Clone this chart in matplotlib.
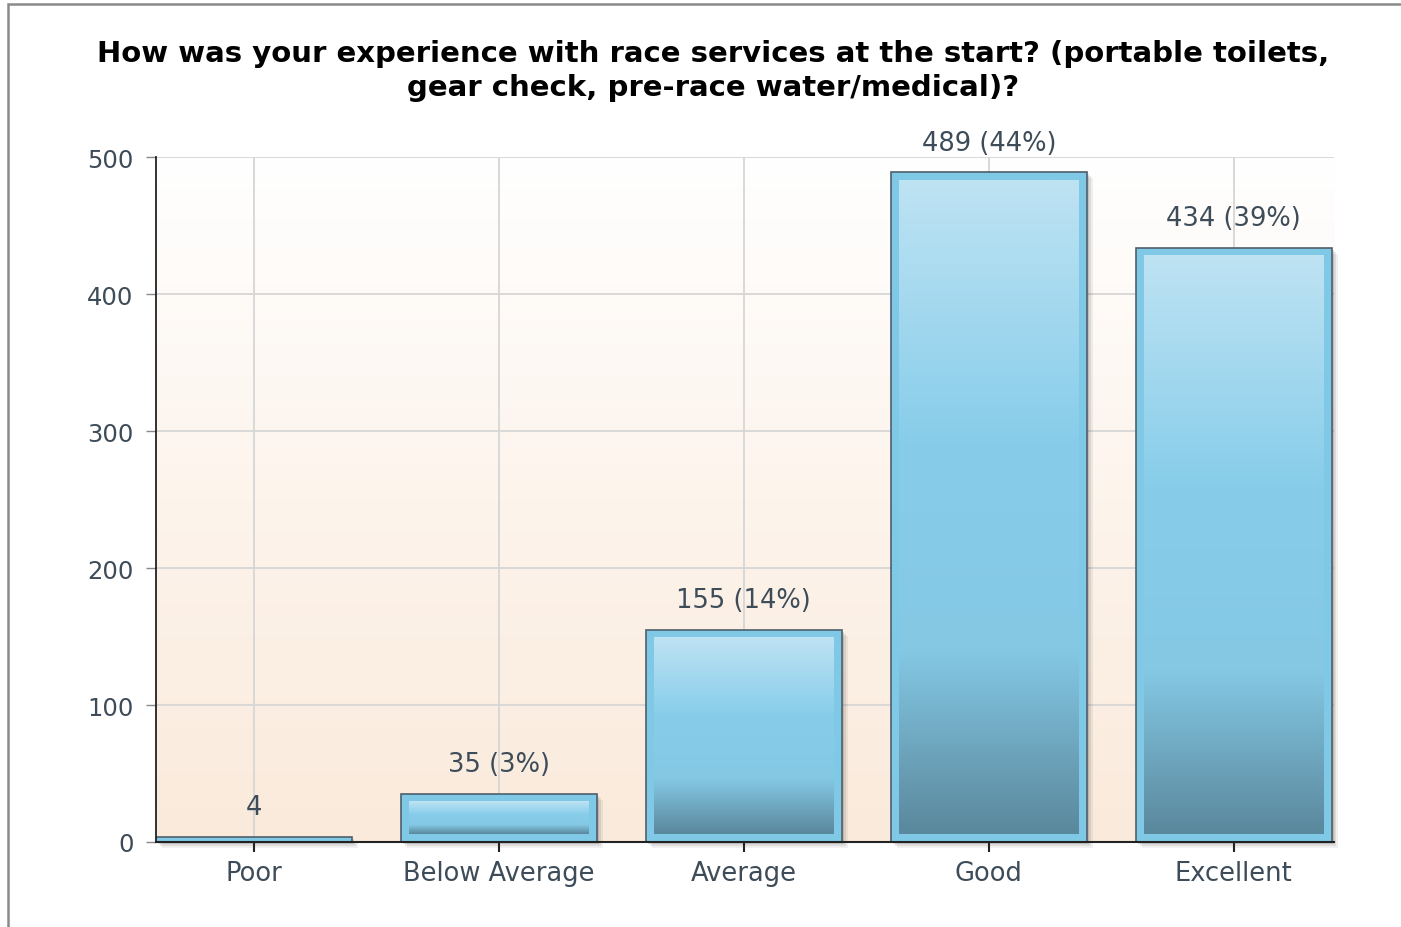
import numpy as np
import matplotlib
matplotlib.use("Agg")
from matplotlib import pyplot as plt
from matplotlib import patches, transforms
from matplotlib.colors import LinearSegmentedColormap

categories = ["Poor", "Below Average", "Average", "Good", "Excellent"]
counts = [4, 35, 155, 489, 434]
labels = ["4", "35 (3%)", "155 (14%)", "489 (44%)", "434 (39%)"]
yticks = [0, 100, 200, 300, 400, 500]
title = ("How was your experience with race services at the start? (portable toilets,\n"
         "gear check, pre-race water/medical)?")

plt.rcParams["font.family"] = ["DejaVu Sans"]
text_col = "#3d4c58"

fig = plt.figure(figsize=(14.01, 9.28), dpi=100)
ax = fig.add_axes([0.1113, 0.0916, 0.841, 0.738])

# background gradient (white at top, light peach at bottom)
bg = LinearSegmentedColormap.from_list("bg", ["#faeadb", "#fdf4ec", "#ffffff"])
ax.imshow(np.linspace(0, 1, 256).reshape(-1, 1)[::-1], cmap=bg, aspect="auto",
          extent=(0, 1, 0, 1), transform=ax.transAxes, zorder=0)

bar_cmap = LinearSegmentedColormap.from_list(
    "bar", [(0.0, "#5a889d"), (0.28, "#84c8e4"), (0.6, "#87cdea"), (1.0, "#bee3f3")])

x = np.arange(len(categories))
width = 0.8
dx = 0.034
dy = 5.8
for xi, v in zip(x, counts):
    # soft shadow
    for k, a in [(6, 0.07), (4, 0.1), (2, 0.15)]:
        tr = transforms.offset_copy(ax.transData, fig=fig, x=k, y=-k, units="dots")
        ax.add_patch(patches.Rectangle((xi - width / 2, 0), width, v, transform=tr,
                                       facecolor="#333333", alpha=a, lw=0,
                                       zorder=1, clip_on=False))
    ax.bar(xi, v, width=width, color="#7fc9e7", edgecolor="#4f5f6b",
           linewidth=1.2, zorder=2)
    if v > 3 * dy:
        grad = np.linspace(0, 1, 256).reshape(-1, 1)[::-1]
        ax.imshow(grad, cmap=bar_cmap, aspect="auto", zorder=3,
                  extent=(xi - width / 2 + dx, xi + width / 2 - dx, dy, v - dy))

for xi, v, lab in zip(x, counts, labels):
    ax.annotate(lab, (xi, v), xytext=(0, 12), textcoords="offset points",
                ha="center", va="bottom", fontsize=18.5, color=text_col, zorder=5)

ax.set_xlim(-0.4, 4.41)
ax.set_ylim(0, 500)
ax.set_xticks(x)
ax.set_xticklabels(categories, fontsize=18.5, color=text_col)
ax.set_yticks(yticks)
ax.set_yticklabels([str(t) for t in yticks], fontsize=17.5, color=text_col)
ax.grid(True, color="#d6d6d6", linewidth=1.3)
ax.set_axisbelow(True)
for g in ax.get_xgridlines() + ax.get_ygridlines():
    g.set_zorder(0.5)

for s in ["top", "right"]:
    ax.spines[s].set_visible(False)
ax.spines["left"].set_color("#222222")
ax.spines["bottom"].set_color("#222222")
ax.spines["left"].set_linewidth(1.3)
ax.spines["bottom"].set_linewidth(1.5)
ax.spines["left"].set_zorder(6)
ax.spines["bottom"].set_zorder(6)
ax.tick_params(axis="y", direction="out", length=7, width=1, color="#888888", pad=9)
ax.tick_params(axis="x", direction="out", length=7, width=1.5, color="#222222", pad=6)

fig.text(0.509, 0.957, title, ha="center", va="top", fontsize=21,
         fontweight="bold", color="#000000", linespacing=1.28)

# outer frame
fig.add_artist(patches.Rectangle((8 / 1401, -0.05), 1.2, 1 - 5 / 928 + 0.05,
                                 transform=fig.transFigure, fill=False,
                                 edgecolor="#8a8a8a", linewidth=1.8))

fig.savefig("out.png", dpi=100, facecolor="white")
